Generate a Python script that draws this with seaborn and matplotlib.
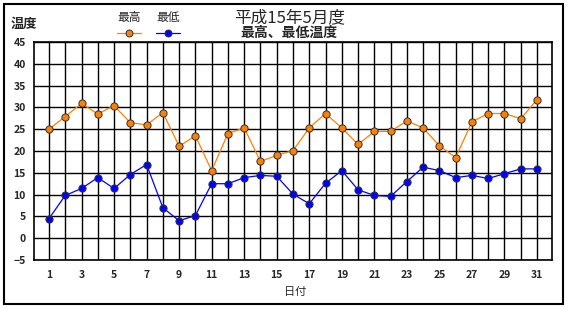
import numpy as np
import pandas as pd
import matplotlib
matplotlib.use("Agg")
import matplotlib.pyplot as plt
import seaborn as sns
from matplotlib.lines import Line2D
from matplotlib.patches import Rectangle

days = list(range(1, 32))
max_temp = [25.0, 27.9, 30.9, 28.5, 30.4, 26.5, 26.0, 28.8, 21.1, 23.5,
            15.5, 24.0, 25.3, 17.6, 19.0, 20.1, 25.3, 28.6, 25.3, 21.5,
            24.5, 24.5, 26.9, 25.3, 21.2, 18.5, 26.7, 28.6, 28.6, 27.4, 31.8]
min_temp = [4.5, 9.8, 11.4, 13.9, 11.4, 14.6, 16.9, 7.0, 4.0, 5.2,
            12.5, 12.5, 13.9, 14.4, 14.2, 10.1, 7.9, 12.6, 15.5, 11.1,
            9.8, 9.6, 13.0, 16.3, 15.5, 13.9, 14.4, 13.7, 14.8, 15.9, 15.9]
series_names = ["最高", "最低"]
yticks = list(range(-5, 50, 5))
xticks = list(range(1, 32, 2))
title1 = "平成15年5月度"
title2 = "最高、最低温度"
ylabel = "温度"
xlabel = "日付"

sns.set_style("white")
plt.rcParams['font.family'] = ['Noto Sans CJK JP', 'DejaVu Sans']

df = pd.DataFrame({
    "day": days * 2,
    "temp": max_temp + min_temp,
    "series": [series_names[0]] * len(days) + [series_names[1]] * len(days),
})
colors = {"最高": "#FF8000", "最低": "#0000FF"}

fig = plt.figure(figsize=(5.7, 3.1), dpi=100)
ax = fig.add_axes([34/570, 1-260/310, (552-34)/570, (260-42)/310])

sns.lineplot(data=df, x="day", y="temp", hue="series", palette=colors,
             marker="o", markersize=5.2, markeredgecolor="#333333",
             markeredgewidth=0.7, linewidth=0.9, ax=ax, legend=False, zorder=3)

ax.set_xlim(0.08, 31.92)
ax.set_ylim(-5, 45)
ax.set_xticks(days)
ax.set_xticklabels([str(d) if d in xticks else "" for d in days])
ax.set_yticks(yticks)
ax.set_yticklabels([str(v).replace("-", "\u2212") for v in yticks])
ax.grid(True, color="black", linewidth=1.0)
ax.set_axisbelow(True)
for s in ax.spines.values():
    s.set_color("black")
    s.set_linewidth(1.2)
ax.tick_params(axis="both", length=0, labelsize=7.5)
ax.tick_params(axis="x", pad=7)
ax.tick_params(axis="y", pad=6)
for lab in ax.get_xticklabels() + ax.get_yticklabels():
    lab.set_fontweight("bold")
ax.set_xlabel("")
ax.set_ylabel("")

fig.text(295/570, 1-292/310, xlabel, ha="center", va="center", fontsize=8)
fig.text(11/570, 1-24/310, ylabel, ha="left", va="center", fontsize=9.5, fontweight="bold")
fig.text(290/570, 1-18/310, title1, ha="center", va="center", fontsize=12)
fig.text(289/570, 1-33/310, title2, ha="center", va="center", fontsize=10, fontweight="bold")

for i, name in enumerate(series_names):
    x0 = 117 + i*39
    fig.text((x0+12)/570, 1-18/310, name, ha="center", va="center", fontsize=8.5)
    fig.add_artist(Line2D([x0/570, (x0+24)/570], [1-33/310, 1-33/310],
                          color=colors[name], linewidth=0.9))
    fig.add_artist(Line2D([(x0+12)/570], [1-33/310], marker="o", markersize=5,
                          markerfacecolor=colors[name], markeredgecolor="#333333",
                          markeredgewidth=0.7, linestyle="none"))

fig.add_artist(Rectangle((4/570, 1-304/310), (563-4)/570, (304-4)/310,
                         fill=False, edgecolor="black", linewidth=1.5,
                         transform=fig.transFigure))

fig.savefig("out.png", dpi=100, facecolor="white")
